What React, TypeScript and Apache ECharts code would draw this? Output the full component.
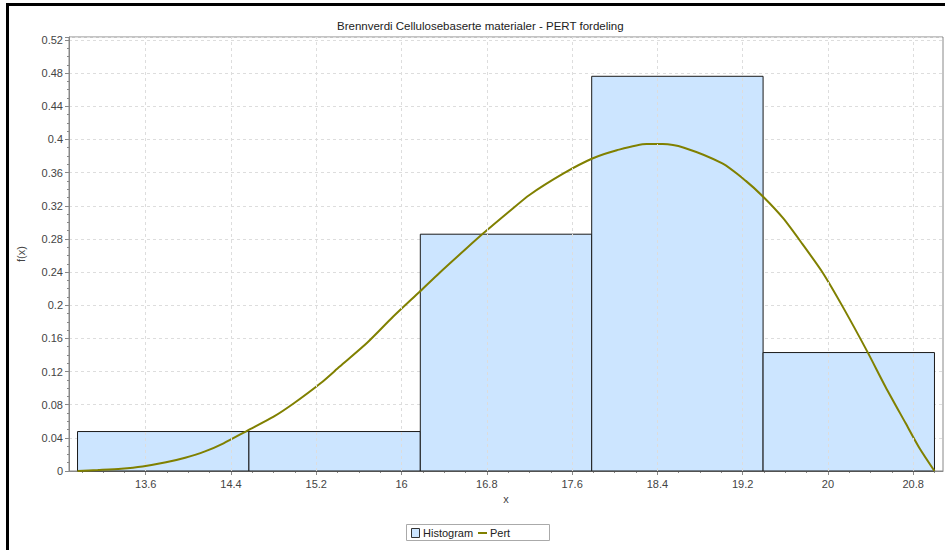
import React, { useEffect, useRef } from "react";
import * as echarts from "echarts";

const titleText = "Brennverdi Cellulosebaserte materialer - PERT fordeling";
const xName = "x";
const yName = "f(x)";

// Histogram bins
const binEdges = [12.96, 14.568, 16.176, 17.784, 19.392, 21.0];
const binValues = [0.0476, 0.0476, 0.2857, 0.4762, 0.1429];

// PERT curve points
const pertX = [12.96, 13.15, 13.37, 13.57, 13.79, 13.97, 14.15, 14.33, 14.55, 14.8, 14.99, 15.24, 15.42, 15.68, 15.92, 16.17, 16.36, 16.61, 16.77, 17.01, 17.2, 17.52, 17.79, 18.02, 18.3, 18.45, 18.65, 19.01, 19.23, 19.4, 19.58, 19.76, 19.95, 20.14, 20.37, 20.54, 20.73, 20.86, 21.0];
const pertY = [0, 0.0012, 0.0028, 0.0055, 0.0105, 0.016, 0.0233, 0.0334, 0.0485, 0.0655, 0.0817, 0.1058, 0.126, 0.155, 0.186, 0.2163, 0.2395, 0.2687, 0.287, 0.313, 0.333, 0.359, 0.377, 0.387, 0.3945, 0.3945, 0.39, 0.371, 0.35, 0.33, 0.305, 0.274, 0.2395, 0.198, 0.144, 0.1017, 0.0575, 0.0274, 0];

// Axis ticks
const xMajorTicks = [13.6, 14.4, 15.2, 16.0, 16.8, 17.6, 18.4, 19.2, 20.0, 20.8];
const xMinorTicks = [13.0, 13.2, 13.4, 13.8, 14.0, 14.2, 14.6, 14.8, 15.0, 15.4, 15.6, 15.8, 16.2, 16.4, 16.6, 17.0, 17.2, 17.4, 17.8, 18.0, 18.2, 18.6, 18.8, 19.0, 19.4, 19.6, 19.8, 20.2, 20.4, 20.6, 21.0];
const xMin = 12.88;
const xMax = 21.08;
const yMin = 0;
const yMax = 0.5236;
const yInterval = 0.04;

const legendNames = ["Histogram", "Pert"];

const BAR_FILL = "#CCE5FF";
const LINE_COLOR = "#808000";
const FONT = "Liberation Sans";

export default function App() {
  const ref = useRef<HTMLDivElement>(null);
  useEffect(() => {
    if (!ref.current) return;
    const chart = echarts.init(ref.current, null, { renderer: "svg" });
    const histData = binValues.map((v, i) => [binEdges[i], binEdges[i + 1], v]);
    const pertData = pertX.map((x, i) => [x, pertY[i]]);
    const labelStyle = { color: "#444", fontSize: 11, fontFamily: FONT };
    chart.setOption({
      animation: false,
      backgroundColor: "#fff",
      title: {
        text: titleText,
        left: 332,
        top: 15,
        textStyle: { fontSize: 11.5, fontWeight: "normal", color: "#222", fontFamily: FONT },
      },
      grid: {
        left: 69,
        right: 2,
        top: 37,
        bottom: 79,
        show: true,
        borderColor: "#888",
        borderWidth: 1,
        backgroundColor: "#fff",
      },
      xAxis: [
        {
          type: "value",
          min: xMin,
          max: xMax,
          name: xName,
          nameLocation: "middle",
          nameGap: 20,
          nameTextStyle: labelStyle,
          axisLine: { show: true, onZero: false, lineStyle: { color: "#888" } },
          axisTick: { show: true, length: 4, customValues: xMajorTicks, lineStyle: { color: "#888" } },
          axisLabel: { ...labelStyle, margin: 7, customValues: xMajorTicks, formatter: (v: number) => String(Number(v.toFixed(2))) },
          splitLine: { show: false },
        },
        {
          type: "value",
          min: xMin,
          max: xMax,
          position: "bottom",
          axisLine: { show: false, onZero: false },
          axisTick: { show: true, length: 2, customValues: xMinorTicks, lineStyle: { color: "#888" } },
          axisLabel: { show: false },
          splitLine: { show: false },
        },
      ],
      yAxis: {
        type: "value",
        min: yMin,
        max: yMax,
        interval: yInterval,
        name: yName,
        nameLocation: "middle",
        nameGap: 43,
        nameTextStyle: labelStyle,
        axisLine: { show: true, lineStyle: { color: "#888" } },
        axisTick: { show: true, length: 4, lineStyle: { color: "#888" } },
        minorTick: { show: true, splitNumber: 4, length: 2, lineStyle: { color: "#888" } },
        axisLabel: { ...labelStyle, margin: 6, showMaxLabel: false, formatter: (v: number) => String(Number(v.toFixed(2))) },
        splitLine: { show: true, lineStyle: { color: "#ddd", type: [3, 3], width: 1 } },
      },
      series: [
        {
          name: "xGrid",
          type: "line",
          xAxisIndex: 0,
          data: [],
          silent: true,
          z: 1,
          markLine: {
            silent: true,
            symbol: "none",
            label: { show: false },
            lineStyle: { color: "#ddd", type: [3, 3], width: 1 },
            data: xMajorTicks.map((v) => ({ xAxis: v })),
          },
        },
        {
          name: legendNames[0],
          type: "custom",
          xAxisIndex: 0,
          data: histData,
          encode: { x: [0, 1], y: 2 },
          renderItem: (params: any, api: any) => {
            const p0 = api.coord([api.value(0), api.value(2)]);
            const p1 = api.coord([api.value(1), 0]);
            return {
              type: "rect",
              shape: { x: p0[0], y: p0[1], width: p1[0] - p0[0], height: p1[1] - p0[1] },
              style: { fill: BAR_FILL, stroke: "#1a1a1a", lineWidth: 1 },
            };
          },
          z: 2,
        },
        {
          name: legendNames[1],
          type: "line",
          xAxisIndex: 0,
          data: pertData,
          smooth: 0.25,
          showSymbol: false,
          lineStyle: { color: LINE_COLOR, width: 2 },
          itemStyle: { color: LINE_COLOR },
          z: 3,
        },
      ],
      graphic: [
        {
          type: "rect",
          shape: { x: 7.5, y: 4.5, width: 1000, height: 1000 },
          style: { fill: "none", stroke: "#000", lineWidth: 3 },
          silent: true,
          z: 100,
        },
        {
          type: "group",
          left: 406,
          top: 524,
          children: [
            { type: "rect", shape: { x: 0.5, y: 0.5, width: 143, height: 16 }, style: { fill: "#fff", stroke: "#aaa", lineWidth: 1 } },
            { type: "rect", shape: { x: 5.5, y: 4.5, width: 8, height: 9 }, style: { fill: BAR_FILL, stroke: "#333", lineWidth: 1 } },
            { type: "text", x: 17, y: 9, style: { text: legendNames[0], fontSize: 11, fontFamily: FONT, fill: "#222", textVerticalAlign: "middle" } },
            { type: "line", shape: { x1: 72, y1: 9, x2: 81, y2: 9 }, style: { stroke: LINE_COLOR, lineWidth: 2 } },
            { type: "text", x: 84, y: 9, style: { text: legendNames[1], fontSize: 11, fontFamily: FONT, fill: "#222", textVerticalAlign: "middle" } },
          ],
        },
      ],
    });
    return () => chart.dispose();
  }, []);
  return <div ref={ref} style={{ position: "fixed", left: 0, top: 0, width: 945, height: 550 }} />;
}
